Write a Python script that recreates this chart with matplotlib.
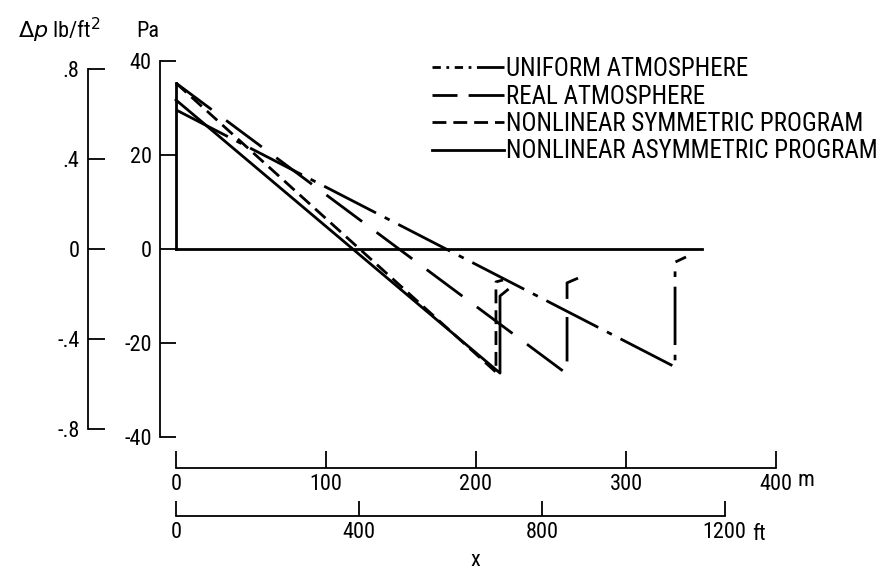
import matplotlib
matplotlib.use('Agg')
import matplotlib.pyplot as plt
from matplotlib import font_manager
from matplotlib.lines import Line2D

W, H = 895, 573

# overpressure signatures: distance x in m, dp in Pa
uniform_x = [0, 332.7, 332.7, 340.0]
uniform_dp = [29.6, -25.1, -2.8, -1.7]
real_x = [0, 260.7, 260.7, 268.0]
real_dp = [35.3, -26.6, -7.2, -6.2]
sym_x = [0, 213.3, 213.3, 218.0]
sym_dp = [35.3, -26.2, -7.0, -6.6]
asym_x = [0, 216.0, 216.0, 221.0]
asym_dp = [31.7, -26.4, -10.0, -8.7]

bow_x = [0, 0]
bow_dp = [0, 35.3]
zero_x = [0, 351]
zero_dp = [0, 0]

labels = ['UNIFORM ATMOSPHERE', 'REAL ATMOSPHERE',
          'NONLINEAR SYMMETRIC PROGRAM', 'NONLINEAR ASYMMETRIC PROGRAM']

pa_ticks = [-40, -20, 0, 20, 40]
psf_ticks = [-0.8, -0.4, 0, 0.4, 0.8]
psf_labels = ['-.8', '-.4', '0', '.4', '.8']
m_ticks = [0, 100, 200, 300, 400]
ft_ticks = [0, 400, 800, 1200]

PA_PER_PSF = 47.88
M_PER_FT = 0.3048


def pick_font(names):
    for n in names:
        try:
            font_manager.findfont(n, fallback_to_default=False)
            return n
        except ValueError:
            pass
    return 'DejaVu Sans'


FONT = pick_font(['Liberation Sans Narrow', 'Roboto Condensed', 'Liberation Sans'])
plt.rcParams['font.family'] = [FONT, 'DejaVu Sans']
plt.rcParams['axes.unicode_minus'] = False

TS = 16  # tick label size

fig = plt.figure(figsize=(W / 100, H / 100), dpi=100)

# main axes: Pa spine at x=160px, x=0 m at 176px, 1.5 px per m
x0, x1 = 160, 890
y_top, y_bot = 61, 437
ax = fig.add_axes([x0 / W, 1 - y_bot / H, (x1 - x0) / W, (y_bot - y_top) / H])
ax.set_xlim((x0 - 176) / 1.5, (x1 - 176) / 1.5)
ax.set_ylim(-40, 40)

for s in ['top', 'right', 'bottom']:
    ax.spines[s].set_visible(False)
ax.spines['left'].set_linewidth(1.3)
ax.set_yticks(pa_ticks)
ax.tick_params(axis='y', direction='in', length=11.5, width=1.3, pad=6, labelsize=TS)
ax.tick_params(axis='x', bottom=False, labelbottom=False)

lw = 2.0
ls_uniform = (0, (21, 3.5, 2, 3.5))
ls_real = (0, (16, 6.5))
ls_sym = (0, (5, 2.5))
ax.plot(zero_x, zero_dp, color='black', lw=lw)
ax.plot(bow_x, bow_dp, color='black', lw=lw)
ax.plot(uniform_x, uniform_dp, color='black', lw=lw, ls=ls_uniform)
ax.plot(real_x, real_dp, color='black', lw=lw, ls=ls_real)
ax.plot(sym_x, sym_dp, color='black', lw=lw, ls=ls_sym)
ax.plot(asym_x, asym_dp, color='black', lw=lw, ls='-')

# lb/ft^2 scale
sec = ax.secondary_yaxis((88 - x0) / (x1 - x0),
                         functions=(lambda p: p / PA_PER_PSF, lambda q: q * PA_PER_PSF))
sec.set_yticks(psf_ticks, psf_labels)
sec.tick_params(direction='in', length=12, width=1.3, pad=6, labelsize=TS)
for s in ['left', 'right']:
    sec.spines[s].set_bounds(-0.8, 0.8)
    sec.spines[s].set_linewidth(1.3)

# distance scales
m_ax = ax.secondary_xaxis((y_bot - 468) / (y_bot - y_top))
m_ax.set_xticks(m_ticks)
m_ax.tick_params(direction='in', length=12, width=1.3, pad=4, labelsize=TS)
for s in ['top', 'bottom']:
    m_ax.spines[s].set_bounds(0, 400)
    m_ax.spines[s].set_linewidth(1.3)

ft_ax = ax.secondary_xaxis((y_bot - 516) / (y_bot - y_top),
                           functions=(lambda m: m / M_PER_FT, lambda f: f * M_PER_FT))
ft_ax.set_xticks(ft_ticks)
ft_ax.tick_params(direction='in', length=11, width=1.3, pad=4, labelsize=TS)
for s in ['top', 'bottom']:
    ft_ax.spines[s].set_bounds(0, 1200)
    ft_ax.spines[s].set_linewidth(1.3)

fig.text(18 / W, 1 - 38 / H, r'$\Delta p$ lb/ft$^2$', fontsize=16, va='baseline', ha='left')
fig.text(136 / W, 1 - 37 / H, 'Pa', fontsize=16, va='baseline', ha='left')
fig.text(798 / W, 1 - 480 / H, 'm', fontsize=TS, va='center', ha='left')
fig.text(752 / W, 1 - 535 / H, 'ft', fontsize=TS, va='center', ha='left')
fig.text(475 / W, 1 - 561 / H, 'x', fontsize=TS, va='center', ha='center')

# legend keys drawn like the original figure's keys
handles = [
    Line2D([], [], color='black', lw=lw, ls=(0, (3, 2, 1, 2, 3, 2, 1, 2, 14))),
    Line2D([], [], color='black', lw=lw, ls=(0, (9, 4, 14))),
    Line2D([], [], color='black', lw=lw, ls=ls_sym),
    Line2D([], [], color='black', lw=lw, ls='-'),
]
ax.legend(handles, labels, loc='upper left',
          bbox_to_anchor=(432 / W, 1 - 57 / H), bbox_transform=fig.transFigure,
          frameon=False, handlelength=2.9, handletextpad=0.05, borderpad=0,
          borderaxespad=0, labelspacing=0.14, fontsize=18)

fig.savefig('out.png', dpi=100)
